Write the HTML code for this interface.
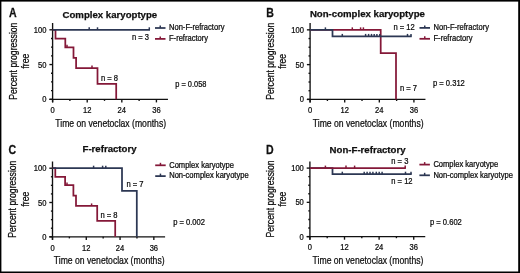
<!DOCTYPE html>
<html><head><meta charset="utf-8"><style>
html,body{margin:0;padding:0;background:#fff;}
body{width:520px;height:273px;overflow:hidden;}
svg{display:block;font-family:"Liberation Sans", sans-serif;will-change:transform;}
text{stroke:#0d0d0d;stroke-width:0.25px;}
</style></head><body>
<svg width="520" height="273" viewBox="0 0 520 273">
<rect x="0" y="0" width="520" height="273" fill="#fff"/>
<line x1="52.60" y1="23.00" x2="52.60" y2="102.40" stroke="#111" stroke-width="1.35"/>
<line x1="49.40" y1="99.30" x2="167.96" y2="99.30" stroke="#111" stroke-width="1.35"/>
<line x1="49.40" y1="99.30" x2="52.60" y2="99.30" stroke="#111" stroke-width="1.35"/>
<line x1="51.00" y1="90.61" x2="52.60" y2="90.61" stroke="#111" stroke-width="1.35"/>
<line x1="51.00" y1="81.92" x2="52.60" y2="81.92" stroke="#111" stroke-width="1.35"/>
<line x1="51.00" y1="73.24" x2="52.60" y2="73.24" stroke="#111" stroke-width="1.35"/>
<line x1="49.40" y1="64.55" x2="52.60" y2="64.55" stroke="#111" stroke-width="1.35"/>
<line x1="51.00" y1="55.86" x2="52.60" y2="55.86" stroke="#111" stroke-width="1.35"/>
<line x1="51.00" y1="47.17" x2="52.60" y2="47.17" stroke="#111" stroke-width="1.35"/>
<line x1="51.00" y1="38.49" x2="52.60" y2="38.49" stroke="#111" stroke-width="1.35"/>
<line x1="49.40" y1="29.80" x2="52.60" y2="29.80" stroke="#111" stroke-width="1.35"/>
<line x1="52.60" y1="99.30" x2="52.60" y2="102.40" stroke="#111" stroke-width="1.35"/>
<line x1="69.90" y1="99.30" x2="69.90" y2="100.90" stroke="#111" stroke-width="1.35"/>
<line x1="87.21" y1="99.30" x2="87.21" y2="102.40" stroke="#111" stroke-width="1.35"/>
<line x1="104.51" y1="99.30" x2="104.51" y2="100.90" stroke="#111" stroke-width="1.35"/>
<line x1="121.82" y1="99.30" x2="121.82" y2="102.40" stroke="#111" stroke-width="1.35"/>
<line x1="139.12" y1="99.30" x2="139.12" y2="100.90" stroke="#111" stroke-width="1.35"/>
<line x1="156.42" y1="99.30" x2="156.42" y2="102.40" stroke="#111" stroke-width="1.35"/>
<text transform="translate(46.50,32.85) scale(0.88,1)" font-size="8.6" text-anchor="end" fill="#0d0d0d">100</text>
<text transform="translate(46.50,67.60) scale(0.88,1)" font-size="8.6" text-anchor="end" fill="#0d0d0d">50</text>
<text transform="translate(46.50,102.35) scale(0.88,1)" font-size="8.6" text-anchor="end" fill="#0d0d0d">0</text>
<text transform="translate(52.60,113.10) scale(0.88,1)" font-size="8.6" text-anchor="middle" fill="#0d0d0d">0</text>
<text transform="translate(87.21,113.10) scale(0.88,1)" font-size="8.6" text-anchor="middle" fill="#0d0d0d">12</text>
<text transform="translate(121.82,113.10) scale(0.88,1)" font-size="8.6" text-anchor="middle" fill="#0d0d0d">24</text>
<text transform="translate(156.42,113.10) scale(0.88,1)" font-size="8.6" text-anchor="middle" fill="#0d0d0d">36</text>
<text transform="translate(110.68,126.90) scale(0.77,1)" font-size="11.2" text-anchor="middle" fill="#0d0d0d">Time on venetoclax (months)</text>
<text transform="translate(16.50,61.15) rotate(-90) scale(0.77,1)" font-size="11.2" text-anchor="middle" fill="#0d0d0d">Percent progression</text>
<text transform="translate(28.70,61.15) rotate(-90) scale(0.77,1)" font-size="11.2" text-anchor="middle" fill="#0d0d0d">free</text>
<text transform="translate(8.90,17.00) scale(0.86,1)" font-size="12.3" text-anchor="start" font-weight="bold" fill="#111">A</text>
<text x="62.50" y="17.50" font-size="9.65" text-anchor="start" font-weight="bold" fill="#111">Complex karyoptype</text>
<path d="M52.60,29.80 L55.50,29.80 L55.50,38.50 L65.30,38.50 L65.30,47.30 L73.50,47.30 L73.50,57.90 L76.10,57.90 L76.10,68.10 L97.50,68.10 L97.50,83.80 L116.20,83.80 L116.20,99.30" fill="none" stroke="#841838" stroke-width="1.75" stroke-linejoin="miter" stroke-linecap="butt"/>
<line x1="67.00" y1="47.30" x2="67.00" y2="44.80" stroke="#841838" stroke-width="1.4875"/>
<line x1="92.00" y1="68.10" x2="92.00" y2="65.60" stroke="#841838" stroke-width="1.4875"/>
<path d="M52.60,29.80 L150.00,29.80" fill="none" stroke="#2c3753" stroke-width="1.75" stroke-linejoin="miter" stroke-linecap="butt"/>
<line x1="89.20" y1="29.80" x2="89.20" y2="27.30" stroke="#2c3753" stroke-width="1.4875"/>
<line x1="97.50" y1="29.80" x2="97.50" y2="27.30" stroke="#2c3753" stroke-width="1.4875"/>
<line x1="149.30" y1="29.80" x2="149.30" y2="27.30" stroke="#2c3753" stroke-width="1.4875"/>
<line x1="155.00" y1="28.00" x2="165.50" y2="28.00" stroke="#2c3753" stroke-width="1.75"/>
<line x1="160.25" y1="28.00" x2="160.25" y2="25.50" stroke="#2c3753" stroke-width="1.4875"/>
<text transform="translate(169.00,30.35) scale(0.925,1)" font-size="8.2" text-anchor="start" fill="#0d0d0d">Non-F-refractory</text>
<line x1="155.00" y1="38.90" x2="165.50" y2="38.90" stroke="#841838" stroke-width="1.75"/>
<line x1="160.25" y1="38.90" x2="160.25" y2="36.40" stroke="#841838" stroke-width="1.4875"/>
<text transform="translate(169.00,41.25) scale(0.925,1)" font-size="8.2" text-anchor="start" fill="#0d0d0d">F-refractory</text>
<text transform="translate(132.00,40.40) scale(0.915,1)" font-size="8.3" text-anchor="start" fill="#0d0d0d">n = 3</text>
<text transform="translate(101.00,80.60) scale(0.915,1)" font-size="8.3" text-anchor="start" fill="#0d0d0d">n = 8</text>
<text transform="translate(175.30,87.20) scale(0.895,1)" font-size="8.3" text-anchor="start" fill="#0d0d0d">p = 0.058</text>
<line x1="310.10" y1="23.10" x2="310.10" y2="102.50" stroke="#111" stroke-width="1.35"/>
<line x1="306.90" y1="99.40" x2="425.46" y2="99.40" stroke="#111" stroke-width="1.35"/>
<line x1="306.90" y1="99.40" x2="310.10" y2="99.40" stroke="#111" stroke-width="1.35"/>
<line x1="308.50" y1="90.71" x2="310.10" y2="90.71" stroke="#111" stroke-width="1.35"/>
<line x1="308.50" y1="82.01" x2="310.10" y2="82.01" stroke="#111" stroke-width="1.35"/>
<line x1="308.50" y1="73.32" x2="310.10" y2="73.32" stroke="#111" stroke-width="1.35"/>
<line x1="306.90" y1="64.62" x2="310.10" y2="64.62" stroke="#111" stroke-width="1.35"/>
<line x1="308.50" y1="55.93" x2="310.10" y2="55.93" stroke="#111" stroke-width="1.35"/>
<line x1="308.50" y1="47.24" x2="310.10" y2="47.24" stroke="#111" stroke-width="1.35"/>
<line x1="308.50" y1="38.54" x2="310.10" y2="38.54" stroke="#111" stroke-width="1.35"/>
<line x1="306.90" y1="29.85" x2="310.10" y2="29.85" stroke="#111" stroke-width="1.35"/>
<line x1="310.10" y1="99.40" x2="310.10" y2="102.50" stroke="#111" stroke-width="1.35"/>
<line x1="327.40" y1="99.40" x2="327.40" y2="101.00" stroke="#111" stroke-width="1.35"/>
<line x1="344.71" y1="99.40" x2="344.71" y2="102.50" stroke="#111" stroke-width="1.35"/>
<line x1="362.01" y1="99.40" x2="362.01" y2="101.00" stroke="#111" stroke-width="1.35"/>
<line x1="379.32" y1="99.40" x2="379.32" y2="102.50" stroke="#111" stroke-width="1.35"/>
<line x1="396.62" y1="99.40" x2="396.62" y2="101.00" stroke="#111" stroke-width="1.35"/>
<line x1="413.92" y1="99.40" x2="413.92" y2="102.50" stroke="#111" stroke-width="1.35"/>
<text transform="translate(304.00,32.90) scale(0.88,1)" font-size="8.6" text-anchor="end" fill="#0d0d0d">100</text>
<text transform="translate(304.00,67.67) scale(0.88,1)" font-size="8.6" text-anchor="end" fill="#0d0d0d">50</text>
<text transform="translate(304.00,102.45) scale(0.88,1)" font-size="8.6" text-anchor="end" fill="#0d0d0d">0</text>
<text transform="translate(310.10,113.20) scale(0.88,1)" font-size="8.6" text-anchor="middle" fill="#0d0d0d">0</text>
<text transform="translate(344.71,113.20) scale(0.88,1)" font-size="8.6" text-anchor="middle" fill="#0d0d0d">12</text>
<text transform="translate(379.32,113.20) scale(0.88,1)" font-size="8.6" text-anchor="middle" fill="#0d0d0d">24</text>
<text transform="translate(413.92,113.20) scale(0.88,1)" font-size="8.6" text-anchor="middle" fill="#0d0d0d">36</text>
<text transform="translate(368.18,127.00) scale(0.77,1)" font-size="11.2" text-anchor="middle" fill="#0d0d0d">Time on venetoclax (months)</text>
<text transform="translate(274.00,61.25) rotate(-90) scale(0.77,1)" font-size="11.2" text-anchor="middle" fill="#0d0d0d">Percent progression</text>
<text transform="translate(286.20,61.25) rotate(-90) scale(0.77,1)" font-size="11.2" text-anchor="middle" fill="#0d0d0d">free</text>
<text transform="translate(266.30,16.70) scale(0.86,1)" font-size="12.3" text-anchor="start" font-weight="bold" fill="#111">B</text>
<text x="309.90" y="17.30" font-size="9.65" text-anchor="start" font-weight="bold" fill="#111">Non-complex karyoptype</text>
<path d="M310.10,29.85 L380.70,29.85 L380.70,53.00 L396.00,53.00 L396.00,99.40" fill="none" stroke="#841838" stroke-width="1.75" stroke-linejoin="miter" stroke-linecap="butt"/>
<line x1="352.30" y1="29.85" x2="352.30" y2="27.35" stroke="#841838" stroke-width="1.4875"/>
<line x1="360.60" y1="29.85" x2="360.60" y2="27.35" stroke="#841838" stroke-width="1.4875"/>
<line x1="363.40" y1="29.85" x2="363.40" y2="27.35" stroke="#841838" stroke-width="1.4875"/>
<path d="M310.10,29.85 L332.50,29.85 L332.50,36.40 L411.70,36.40" fill="none" stroke="#2c3753" stroke-width="1.75" stroke-linejoin="miter" stroke-linecap="butt"/>
<line x1="325.40" y1="29.85" x2="325.40" y2="27.35" stroke="#2c3753" stroke-width="1.4875"/>
<line x1="342.30" y1="36.40" x2="342.30" y2="33.90" stroke="#2c3753" stroke-width="1.4875"/>
<line x1="365.60" y1="36.40" x2="365.60" y2="33.90" stroke="#2c3753" stroke-width="1.4875"/>
<line x1="368.60" y1="36.40" x2="368.60" y2="33.90" stroke="#2c3753" stroke-width="1.4875"/>
<line x1="371.50" y1="36.40" x2="371.50" y2="33.90" stroke="#2c3753" stroke-width="1.4875"/>
<line x1="374.20" y1="36.40" x2="374.20" y2="33.90" stroke="#2c3753" stroke-width="1.4875"/>
<line x1="376.90" y1="36.40" x2="376.90" y2="33.90" stroke="#2c3753" stroke-width="1.4875"/>
<line x1="379.80" y1="36.40" x2="379.80" y2="33.90" stroke="#2c3753" stroke-width="1.4875"/>
<line x1="407.50" y1="36.40" x2="407.50" y2="33.90" stroke="#2c3753" stroke-width="1.4875"/>
<line x1="411.00" y1="36.40" x2="411.00" y2="33.90" stroke="#2c3753" stroke-width="1.4875"/>
<line x1="419.50" y1="27.90" x2="430.00" y2="27.90" stroke="#2c3753" stroke-width="1.75"/>
<line x1="424.75" y1="27.90" x2="424.75" y2="25.40" stroke="#2c3753" stroke-width="1.4875"/>
<text transform="translate(433.50,30.25) scale(0.925,1)" font-size="8.2" text-anchor="start" fill="#0d0d0d">Non-F-refractory</text>
<line x1="419.50" y1="38.80" x2="430.00" y2="38.80" stroke="#841838" stroke-width="1.75"/>
<line x1="424.75" y1="38.80" x2="424.75" y2="36.30" stroke="#841838" stroke-width="1.4875"/>
<text transform="translate(433.50,41.15) scale(0.925,1)" font-size="8.2" text-anchor="start" fill="#0d0d0d">F-refractory</text>
<text transform="translate(393.40,29.90) scale(0.915,1)" font-size="8.3" text-anchor="start" fill="#0d0d0d">n = 12</text>
<text transform="translate(400.00,90.60) scale(0.915,1)" font-size="8.3" text-anchor="start" fill="#0d0d0d">n = 7</text>
<text transform="translate(433.00,86.40) scale(0.915,1)" font-size="8.3" text-anchor="start" fill="#0d0d0d">p = 0.312</text>
<line x1="52.50" y1="161.50" x2="52.50" y2="239.90" stroke="#111" stroke-width="1.35"/>
<line x1="49.30" y1="236.80" x2="165.10" y2="236.80" stroke="#111" stroke-width="1.35"/>
<line x1="49.30" y1="236.80" x2="52.50" y2="236.80" stroke="#111" stroke-width="1.35"/>
<line x1="50.90" y1="228.23" x2="52.50" y2="228.23" stroke="#111" stroke-width="1.35"/>
<line x1="50.90" y1="219.65" x2="52.50" y2="219.65" stroke="#111" stroke-width="1.35"/>
<line x1="50.90" y1="211.07" x2="52.50" y2="211.07" stroke="#111" stroke-width="1.35"/>
<line x1="49.30" y1="202.50" x2="52.50" y2="202.50" stroke="#111" stroke-width="1.35"/>
<line x1="50.90" y1="193.92" x2="52.50" y2="193.92" stroke="#111" stroke-width="1.35"/>
<line x1="50.90" y1="185.35" x2="52.50" y2="185.35" stroke="#111" stroke-width="1.35"/>
<line x1="50.90" y1="176.77" x2="52.50" y2="176.77" stroke="#111" stroke-width="1.35"/>
<line x1="49.30" y1="168.20" x2="52.50" y2="168.20" stroke="#111" stroke-width="1.35"/>
<line x1="52.50" y1="236.80" x2="52.50" y2="239.90" stroke="#111" stroke-width="1.35"/>
<line x1="69.39" y1="236.80" x2="69.39" y2="238.40" stroke="#111" stroke-width="1.35"/>
<line x1="86.28" y1="236.80" x2="86.28" y2="239.90" stroke="#111" stroke-width="1.35"/>
<line x1="103.17" y1="236.80" x2="103.17" y2="238.40" stroke="#111" stroke-width="1.35"/>
<line x1="120.06" y1="236.80" x2="120.06" y2="239.90" stroke="#111" stroke-width="1.35"/>
<line x1="136.95" y1="236.80" x2="136.95" y2="238.40" stroke="#111" stroke-width="1.35"/>
<line x1="153.84" y1="236.80" x2="153.84" y2="239.90" stroke="#111" stroke-width="1.35"/>
<text transform="translate(46.40,171.25) scale(0.88,1)" font-size="8.6" text-anchor="end" fill="#0d0d0d">100</text>
<text transform="translate(46.40,205.55) scale(0.88,1)" font-size="8.6" text-anchor="end" fill="#0d0d0d">50</text>
<text transform="translate(46.40,239.85) scale(0.88,1)" font-size="8.6" text-anchor="end" fill="#0d0d0d">0</text>
<text transform="translate(52.50,250.60) scale(0.88,1)" font-size="8.6" text-anchor="middle" fill="#0d0d0d">0</text>
<text transform="translate(86.28,250.60) scale(0.88,1)" font-size="8.6" text-anchor="middle" fill="#0d0d0d">12</text>
<text transform="translate(120.06,250.60) scale(0.88,1)" font-size="8.6" text-anchor="middle" fill="#0d0d0d">24</text>
<text transform="translate(153.84,250.60) scale(0.88,1)" font-size="8.6" text-anchor="middle" fill="#0d0d0d">36</text>
<text transform="translate(109.20,264.40) scale(0.77,1)" font-size="11.2" text-anchor="middle" fill="#0d0d0d">Time on venetoclax (months)</text>
<text transform="translate(16.40,199.15) rotate(-90) scale(0.77,1)" font-size="11.2" text-anchor="middle" fill="#0d0d0d">Percent progression</text>
<text transform="translate(28.60,199.15) rotate(-90) scale(0.77,1)" font-size="11.2" text-anchor="middle" fill="#0d0d0d">free</text>
<text transform="translate(8.60,154.10) scale(0.86,1)" font-size="12.3" text-anchor="start" font-weight="bold" fill="#111">C</text>
<text x="82.50" y="152.40" font-size="9.65" text-anchor="start" font-weight="bold" fill="#111">F-refractory</text>
<path d="M52.50,168.20 L55.30,168.20 L55.30,176.80 L65.10,176.80 L65.10,185.10 L73.40,185.10 L73.40,195.64 L76.00,195.64 L76.00,205.93 L97.20,205.93 L97.20,220.80 L115.20,220.80 L115.20,236.80" fill="none" stroke="#841838" stroke-width="1.75" stroke-linejoin="miter" stroke-linecap="butt"/>
<line x1="67.00" y1="185.10" x2="67.00" y2="182.60" stroke="#841838" stroke-width="1.4875"/>
<line x1="91.60" y1="205.93" x2="91.60" y2="203.43" stroke="#841838" stroke-width="1.4875"/>
<path d="M52.50,168.20 L122.00,168.20 L122.00,190.80 L136.80,190.80 L136.80,236.80" fill="none" stroke="#2c3753" stroke-width="1.75" stroke-linejoin="miter" stroke-linecap="butt"/>
<line x1="93.60" y1="168.20" x2="93.60" y2="165.70" stroke="#2c3753" stroke-width="1.4875"/>
<line x1="102.60" y1="168.20" x2="102.60" y2="165.70" stroke="#2c3753" stroke-width="1.4875"/>
<line x1="105.80" y1="168.20" x2="105.80" y2="165.70" stroke="#2c3753" stroke-width="1.4875"/>
<line x1="155.20" y1="165.30" x2="165.70" y2="165.30" stroke="#841838" stroke-width="1.75"/>
<line x1="160.45" y1="165.30" x2="160.45" y2="162.80" stroke="#841838" stroke-width="1.4875"/>
<text transform="translate(169.20,167.65) scale(0.925,1)" font-size="8.2" text-anchor="start" fill="#0d0d0d">Complex karyotype</text>
<line x1="155.20" y1="176.10" x2="165.70" y2="176.10" stroke="#2c3753" stroke-width="1.75"/>
<line x1="160.45" y1="176.10" x2="160.45" y2="173.60" stroke="#2c3753" stroke-width="1.4875"/>
<text transform="translate(169.20,178.45) scale(0.925,1)" font-size="8.2" text-anchor="start" fill="#0d0d0d">Non-complex karyotype</text>
<text transform="translate(126.40,186.60) scale(0.915,1)" font-size="8.3" text-anchor="start" fill="#0d0d0d">n = 7</text>
<text transform="translate(100.40,218.30) scale(0.915,1)" font-size="8.3" text-anchor="start" fill="#0d0d0d">n = 8</text>
<text transform="translate(173.20,225.00) scale(0.915,1)" font-size="8.3" text-anchor="start" fill="#0d0d0d">p = 0.002</text>
<line x1="309.90" y1="161.40" x2="309.90" y2="239.70" stroke="#111" stroke-width="1.35"/>
<line x1="306.70" y1="236.60" x2="425.26" y2="236.60" stroke="#111" stroke-width="1.35"/>
<line x1="306.70" y1="236.60" x2="309.90" y2="236.60" stroke="#111" stroke-width="1.35"/>
<line x1="308.30" y1="228.04" x2="309.90" y2="228.04" stroke="#111" stroke-width="1.35"/>
<line x1="308.30" y1="219.47" x2="309.90" y2="219.47" stroke="#111" stroke-width="1.35"/>
<line x1="308.30" y1="210.91" x2="309.90" y2="210.91" stroke="#111" stroke-width="1.35"/>
<line x1="306.70" y1="202.35" x2="309.90" y2="202.35" stroke="#111" stroke-width="1.35"/>
<line x1="308.30" y1="193.79" x2="309.90" y2="193.79" stroke="#111" stroke-width="1.35"/>
<line x1="308.30" y1="185.22" x2="309.90" y2="185.22" stroke="#111" stroke-width="1.35"/>
<line x1="308.30" y1="176.66" x2="309.90" y2="176.66" stroke="#111" stroke-width="1.35"/>
<line x1="306.70" y1="168.10" x2="309.90" y2="168.10" stroke="#111" stroke-width="1.35"/>
<line x1="309.90" y1="236.60" x2="309.90" y2="239.70" stroke="#111" stroke-width="1.35"/>
<line x1="327.20" y1="236.60" x2="327.20" y2="238.20" stroke="#111" stroke-width="1.35"/>
<line x1="344.51" y1="236.60" x2="344.51" y2="239.70" stroke="#111" stroke-width="1.35"/>
<line x1="361.81" y1="236.60" x2="361.81" y2="238.20" stroke="#111" stroke-width="1.35"/>
<line x1="379.12" y1="236.60" x2="379.12" y2="239.70" stroke="#111" stroke-width="1.35"/>
<line x1="396.42" y1="236.60" x2="396.42" y2="238.20" stroke="#111" stroke-width="1.35"/>
<line x1="413.72" y1="236.60" x2="413.72" y2="239.70" stroke="#111" stroke-width="1.35"/>
<text transform="translate(303.80,171.15) scale(0.88,1)" font-size="8.6" text-anchor="end" fill="#0d0d0d">100</text>
<text transform="translate(303.80,205.40) scale(0.88,1)" font-size="8.6" text-anchor="end" fill="#0d0d0d">50</text>
<text transform="translate(303.80,239.65) scale(0.88,1)" font-size="8.6" text-anchor="end" fill="#0d0d0d">0</text>
<text transform="translate(309.90,250.40) scale(0.88,1)" font-size="8.6" text-anchor="middle" fill="#0d0d0d">0</text>
<text transform="translate(344.51,250.40) scale(0.88,1)" font-size="8.6" text-anchor="middle" fill="#0d0d0d">12</text>
<text transform="translate(379.12,250.40) scale(0.88,1)" font-size="8.6" text-anchor="middle" fill="#0d0d0d">24</text>
<text transform="translate(413.72,250.40) scale(0.88,1)" font-size="8.6" text-anchor="middle" fill="#0d0d0d">36</text>
<text transform="translate(367.98,264.20) scale(0.77,1)" font-size="11.2" text-anchor="middle" fill="#0d0d0d">Time on venetoclax (months)</text>
<text transform="translate(273.80,199.00) rotate(-90) scale(0.77,1)" font-size="11.2" text-anchor="middle" fill="#0d0d0d">Percent progression</text>
<text transform="translate(286.00,199.00) rotate(-90) scale(0.77,1)" font-size="11.2" text-anchor="middle" fill="#0d0d0d">free</text>
<text transform="translate(266.10,153.80) scale(0.86,1)" font-size="12.3" text-anchor="start" font-weight="bold" fill="#111">D</text>
<text x="329.60" y="152.60" font-size="9.65" text-anchor="start" font-weight="bold" fill="#111">Non-F-refractory</text>
<path d="M309.90,168.10 L332.50,168.10 L332.50,174.20 L411.70,174.20" fill="none" stroke="#2c3753" stroke-width="1.75" stroke-linejoin="miter" stroke-linecap="butt"/>
<line x1="342.30" y1="174.20" x2="342.30" y2="171.70" stroke="#2c3753" stroke-width="1.4875"/>
<line x1="364.20" y1="174.20" x2="364.20" y2="171.70" stroke="#2c3753" stroke-width="1.4875"/>
<line x1="367.10" y1="174.20" x2="367.10" y2="171.70" stroke="#2c3753" stroke-width="1.4875"/>
<line x1="370.00" y1="174.20" x2="370.00" y2="171.70" stroke="#2c3753" stroke-width="1.4875"/>
<line x1="372.90" y1="174.20" x2="372.90" y2="171.70" stroke="#2c3753" stroke-width="1.4875"/>
<line x1="376.30" y1="174.20" x2="376.30" y2="171.70" stroke="#2c3753" stroke-width="1.4875"/>
<line x1="379.20" y1="174.20" x2="379.20" y2="171.70" stroke="#2c3753" stroke-width="1.4875"/>
<line x1="382.10" y1="174.20" x2="382.10" y2="171.70" stroke="#2c3753" stroke-width="1.4875"/>
<line x1="405.50" y1="174.20" x2="405.50" y2="171.70" stroke="#2c3753" stroke-width="1.4875"/>
<line x1="411.00" y1="174.20" x2="411.00" y2="171.70" stroke="#2c3753" stroke-width="1.4875"/>
<path d="M309.90,168.10 L405.90,168.10" fill="none" stroke="#841838" stroke-width="1.75" stroke-linejoin="miter" stroke-linecap="butt"/>
<line x1="325.40" y1="168.10" x2="325.40" y2="165.60" stroke="#841838" stroke-width="1.4875"/>
<line x1="346.00" y1="168.10" x2="346.00" y2="165.60" stroke="#841838" stroke-width="1.4875"/>
<line x1="354.60" y1="168.10" x2="354.60" y2="165.60" stroke="#841838" stroke-width="1.4875"/>
<line x1="405.20" y1="168.10" x2="405.20" y2="165.60" stroke="#841838" stroke-width="1.4875"/>
<line x1="419.40" y1="164.60" x2="429.90" y2="164.60" stroke="#841838" stroke-width="1.75"/>
<line x1="424.65" y1="164.60" x2="424.65" y2="162.10" stroke="#841838" stroke-width="1.4875"/>
<text transform="translate(433.40,166.95) scale(0.925,1)" font-size="8.2" text-anchor="start" fill="#0d0d0d">Complex karyotype</text>
<line x1="419.40" y1="175.30" x2="429.90" y2="175.30" stroke="#2c3753" stroke-width="1.75"/>
<line x1="424.65" y1="175.30" x2="424.65" y2="172.80" stroke="#2c3753" stroke-width="1.4875"/>
<text transform="translate(433.40,177.65) scale(0.925,1)" font-size="8.2" text-anchor="start" fill="#0d0d0d">Non-complex karyotype</text>
<text transform="translate(391.30,163.50) scale(0.915,1)" font-size="8.3" text-anchor="start" fill="#0d0d0d">n = 3</text>
<text transform="translate(391.30,184.10) scale(0.915,1)" font-size="8.3" text-anchor="start" fill="#0d0d0d">n = 12</text>
<text transform="translate(430.00,224.90) scale(0.915,1)" font-size="8.3" text-anchor="start" fill="#0d0d0d">p = 0.602</text>
<rect x="0" y="0" width="1.4" height="273" fill="#000"/>
<rect x="0" y="0" width="520" height="1.6" fill="#000"/>
<rect x="518.2" y="0" width="1.8" height="273" fill="#000"/>
<rect x="0" y="271.5" width="520" height="1.5" fill="#000"/>
</svg>
</body></html>
